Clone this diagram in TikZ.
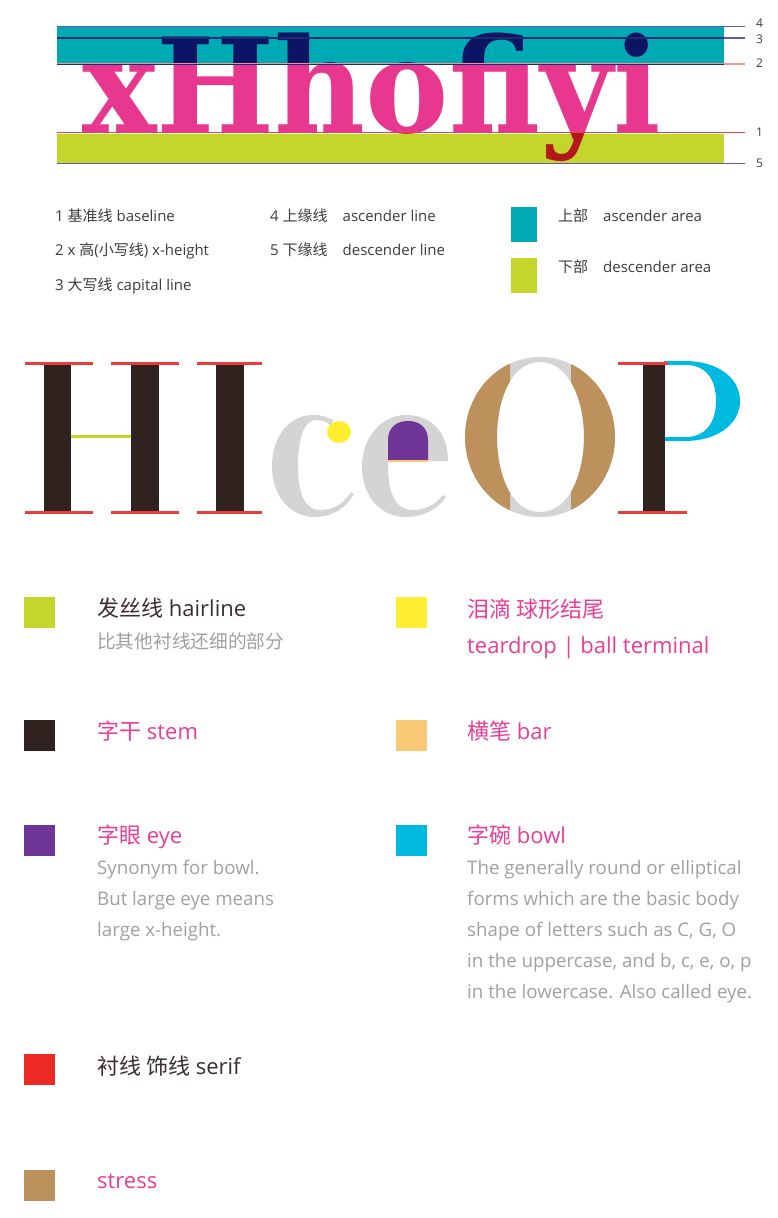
\documentclass[tikz,border=0pt]{standalone}
\usepackage{fontspec}
\setmainfont{Open Sans}
\newfontfamily\cjk{Noto Sans CJK SC}
\newfontfamily\slab{DejaVu Serif}
\definecolor{teal1}{HTML}{00AAB4}
\definecolor{lime1}{HTML}{C4D52B}
\definecolor{navy1}{HTML}{0B1563}
\definecolor{pink1}{HTML}{E8378E}
\definecolor{dred}{HTML}{B3161B}
\definecolor{guide}{HTML}{5A5AAE}
\definecolor{guidedark}{HTML}{1E2A70}
\definecolor{xline}{HTML}{F29494}
\definecolor{bline}{HTML}{EC4040}
\definecolor{stemc}{HTML}{2F221F}
\definecolor{serifc}{HTML}{EA3C3C}
\definecolor{greyc}{HTML}{D4D4D4}
\definecolor{ballc}{HTML}{FFEE30}
\definecolor{eyec}{HTML}{6E3596}
\definecolor{barc}{HTML}{FAC978}
\definecolor{bowlc}{HTML}{00B9E0}
\definecolor{stressc}{HTML}{BC915C}
\definecolor{redsq}{HTML}{EE2A24}
\definecolor{txtpink}{HTML}{EA3D94}
\definecolor{txtdark}{HTML}{3A2F2F}
\definecolor{txtgrey}{HTML}{A0A0A0}
\definecolor{legtxt}{HTML}{3C3C3C}
\newcommand{\bigxword}{\scalebox{0.955}[1]{xHhofiyi}}
\begin{document}
\begin{tikzpicture}[x=1pt,y=-1pt,
  lbl/.style={inner sep=0, anchor=base west, font=\fontsize{15}{17}\selectfont, text=legtxt},
  ttl/.style={inner sep=0, anchor=base west, font=\fontsize{22}{26}\selectfont},
  bodytxt/.style={inner sep=0, anchor=base west, font=\fontsize{18.7}{22}\selectfont, text=txtgrey},
  sqbox/.style={inner sep=0, minimum width=31pt, minimum height=31pt, anchor=north west, draw=none},
  numlbl/.style={inner sep=0, anchor=west, font=\fontsize{12}{14}\selectfont, text=legtxt},
  bigword/.style={inner sep=0, anchor=base west, font=\slab\bfseries\fontsize{131}{131}\selectfont},
  serifline/.style={serifc, line width=3pt},
]
\useasboundingbox (0,0) rectangle (778,1218);

% ---------- top: guide lines ----------
\fill[teal1] (57,27) rectangle (724,64);
\fill[lime1] (57,134) rectangle (724,163);
\begin{scope}
  \clip (0,0) rectangle (778,64);
  \node[bigword, text=navy1] (w1) at (82,132) {\bigxword};
\end{scope}
\begin{scope}
  \clip (0,64) rectangle (778,132);
  \node[bigword, text=pink1] (w2) at (82,132) {\bigxword};
\end{scope}
\begin{scope}
  \clip (0,132) rectangle (778,200);
  \node[bigword, text=dred] (w3) at (82,132) {\bigxword};
\end{scope}
\draw[guide, line width=1pt] (57,26) -- (745,26);
\draw[guide, line width=1.2pt] (57,38) -- (745,38);
\draw[guidedark, line width=1.2pt] (57,38) -- (724,38);
\draw[xline, line width=1.5pt] (57,64) -- (745,64);
\draw[guidedark, line width=1pt] (57,64) -- (724,64);
\draw[bline, line width=1.5pt] (57,132.5) -- (745,132.5);
\draw[guide, line width=1pt] (57,163.5) -- (745,163.5);
\node[numlbl] (n4) at (756,23) {4};
\node[numlbl] (n3) at (756,39) {3};
\node[numlbl] (n2) at (756,63) {2};
\node[numlbl] (n1) at (756,132) {1};
\node[numlbl] (n5) at (756,163) {5};

% ---------- top legend ----------
\node[lbl] (l1) at (55,221) {1 {\cjk 基准线} baseline};
\node[lbl] (l2) at (55,255) {2 x {\cjk 高}({\cjk 小写线}) x-height};
\node[lbl] (l3) at (55,290) {3 {\cjk 大写线} capital line};
\node[lbl] (l4) at (270,221) {4 {\cjk 上缘线}\quad ascender line};
\node[lbl] (l5) at (270,255) {5 {\cjk 下缘线}\quad descender line};
\fill[teal1] (511,207) rectangle (537,242);
\fill[lime1] (511,258) rectangle (537,293);
\node[lbl] (l6) at (558,221) {{\cjk 上部}\quad ascender area};
\node[lbl] (l7) at (558,272) {{\cjk 下部}\quad descender area};

% ---------- HIceOP ----------
% H
\fill[stemc] (44,363) rectangle (71,512);
\fill[stemc] (131,363) rectangle (159,512);
\fill[lime1] (71,434.5) rectangle (131,437.5);
\draw[serifline] (25,363) -- (93,363);
\draw[serifline] (111,363) -- (179,363);
\draw[serifline] (25,512) -- (93,512);
\draw[serifline] (111,512) -- (179,512);
% I
\fill[stemc] (216,363) rectangle (244,512);
\draw[serifline] (197,363) -- (262,363);
\draw[serifline] (197,512) -- (262,512);
% c
\fill[greyc] (333,420) .. controls (326,416) and (320,415) .. (313,415)
  .. controls (288,415) and (272,438) .. (272,466)
  .. controls (272,496) and (290,517) .. (315,517)
  .. controls (333,517) and (347,507) .. (354,494)
  -- (351,492)
  .. controls (344,503) and (334,510) .. (320,510)
  .. controls (305,510) and (298,494) .. (298,466)
  .. controls (298,436) and (305,420) .. (316,420)
  .. controls (322,420) and (327,422) .. (331,426) -- cycle;
\fill[ballc] (339,432) ellipse [x radius=12, y radius=11];
% e
\fill[greyc] (448,461) .. controls (448,433) and (432,415) .. (406,415)
  .. controls (381,415) and (362,438) .. (362,466)
  .. controls (362,496) and (380,517) .. (406,517)
  .. controls (424,517) and (439,508) .. (446,497)
  -- (443,495)
  .. controls (436,504) and (426,510) .. (413,510)
  .. controls (396,510) and (388,494) .. (388,466)
  -- (388,462) -- cycle;
\fill[eyec] (388,460) -- (388,440) .. controls (388,428) and (396,421) .. (408,421)
  .. controls (420,421) and (428,428) .. (428,440) -- (428,460) -- cycle;
\draw[barc, line width=1.5pt] (388,461) -- (428,461);
% O
\def\Oring{(540,437) ellipse [x radius=75, y radius=80]
  (540,362) .. controls (569,362) and (584,400) .. (584,437)
  .. controls (584,474) and (569,512) .. (540,512)
  .. controls (511,512) and (497,474) .. (497,437)
  .. controls (497,400) and (511,362) .. (540,362)}
\fill[greyc, even odd rule] \Oring;
\begin{scope}
  \clip (450,350) rectangle (510,525);
  \fill[stressc, even odd rule] \Oring;
\end{scope}
\begin{scope}
  \clip (571,350) rectangle (630,525);
  \fill[stressc, even odd rule] \Oring;
\end{scope}
% P
\fill[bowlc, even odd rule] (664,361) -- (685,361) .. controls (718,361) and (740,378) .. (740,401)
  .. controls (740,425) and (716,441) .. (685,441) -- (664,441) -- cycle
  (665,437) -- (686,437) .. controls (705,437) and (716,423) .. (716,401)
  .. controls (716,378) and (705,365) .. (686,365) -- (665,365) -- cycle;
\fill[stemc] (643,363) rectangle (665,512);
\draw[serifc, line width=3pt] (618,363) -- (668,363);
\draw[serifc, line width=3pt] (618,512) -- (687,512);

% ---------- lower legend ----------
\node[sqbox, fill=lime1] (s1) at (24,597) {};
\node[ttl, text=txtdark] (t1) at (97,616) {{\cjk 发丝线} hairline};
\node[bodytxt] (d1) at (97,648) {\cjk 比其他衬线还细的部分};

\node[sqbox, fill=ballc] (s2) at (396,597) {};
\node[ttl, text=txtpink] (t2) at (467,617) {\cjk 泪滴 球形结尾};
\node[ttl, text=txtpink] (t2b) at (467,653) {teardrop | ball terminal};

\node[sqbox, fill=stemc] (s3) at (24,720) {};
\node[ttl, text=txtpink] (t3) at (97,739) {{\cjk 字干} stem};
\node[sqbox, fill=barc] (s4) at (396,720) {};
\node[ttl, text=txtpink] (t4) at (467,739) {{\cjk 横笔} bar};

\node[sqbox, fill=eyec] (s5) at (24,825) {};
\node[ttl, text=txtpink] (t5) at (97,843) {{\cjk 字眼} eye};
\node[bodytxt] (d5a) at (97,874) {Synonym for bowl.};
\node[bodytxt] (d5b) at (97,905) {But large eye means};
\node[bodytxt] (d5c) at (97,936) {large x-height.};

\node[sqbox, fill=bowlc] (s6) at (396,825) {};
\node[ttl, text=txtpink] (t6) at (467,843) {{\cjk 字碗} bowl};
\node[bodytxt] (d6a) at (467,874) {The generally round or elliptical};
\node[bodytxt] (d6b) at (467,905) {forms which are the basic body};
\node[bodytxt] (d6c) at (467,936) {shape of letters such as C, G, O};
\node[bodytxt] (d6d) at (467,967) {in the uppercase, and b, c, e, o, p};
\node[bodytxt] (d6e) at (467,998) {in the lowercase. Also called eye.};

\node[sqbox, fill=redsq] (s7) at (24,1054) {};
\node[ttl, text=txtdark] (t7) at (97,1074) {{\cjk 衬线 饰线} serif};

\node[sqbox, fill=stressc] (s8) at (24,1170) {};
\node[ttl, text=txtpink] (t8) at (97,1188) {stress};
\end{tikzpicture}
\end{document}
